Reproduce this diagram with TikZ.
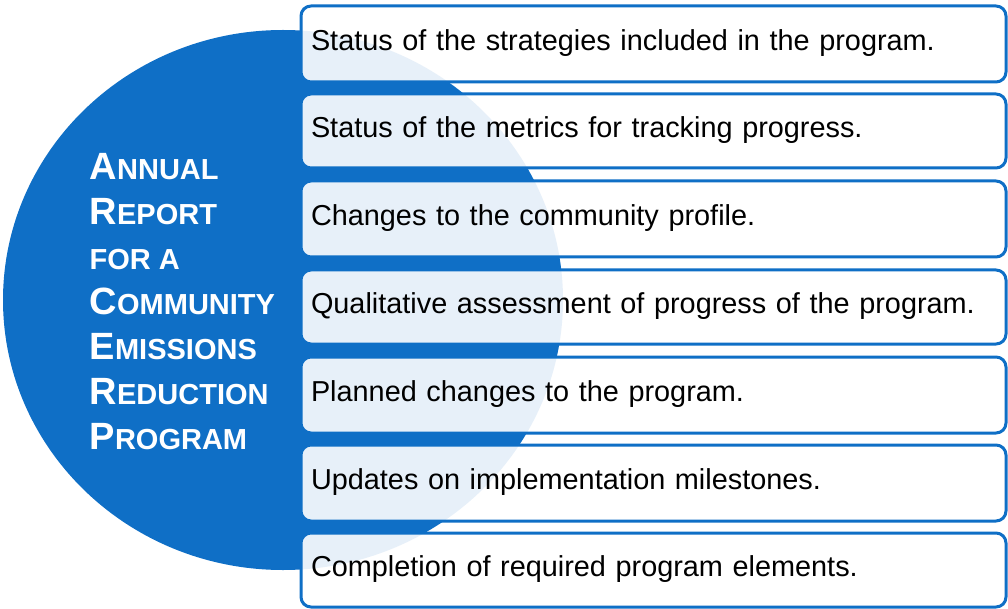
\documentclass[tikz,border=0pt]{standalone}
\usepackage{fontspec}
\setmainfont{Liberation Sans}
\usetikzlibrary{shapes.geometric}
\definecolor{cblue}{HTML}{0F6FC6}
\newcommand\scap[2]{{\fontsize{38}{45}\selectfont #1}{\fontsize{29}{45}\selectfont #2}}
\tikzset{
  itembox/.style={draw=cblue, line width=3pt, rounded corners=10pt,
    fill=white, fill opacity=0.9, text opacity=1, text=black,
    font=\fontsize{28.85}{34}\selectfont, text height=12.5pt, text depth=0pt,
    inner xsep=10pt, inner ysep=0pt, text width=685pt, align=left,
    anchor=north west},
  titletext/.style={text=white, font=\bfseries\fontsize{38}{45}\selectfont,
    inner sep=0pt, align=left, anchor=north west}
}
\begin{document}
\begin{tikzpicture}[x=1pt,y=-1pt]
\useasboundingbox (0,0) rectangle (1008,609);
\node (circ) [ellipse, fill=cblue, draw=none, inner sep=0pt,
  minimum width=560pt, minimum height=540pt] at (283,300) {};
\node (b1) [itembox, minimum height=76pt] at (299.5,4.5) {Status of the strategies included in the program.};
\node (b2) [itembox, minimum height=74pt] at (299.5,92.5) {Status of the metrics for tracking progress.};
\node (b3) [itembox, minimum height=76pt] at (299.5,179.5) {Changes to the community profile.};
\node (b4) [itembox, minimum height=74pt] at (299.5,268.5) {Qualitative assessment of progress of the program.};
\node (b5) [itembox, minimum height=76pt] at (299.5,355.5) {Planned changes to the program.};
\node (b6) [itembox, minimum height=76pt] at (299.5,443.5) {Updates on implementation milestones.};
\node (b7) [itembox, minimum height=74pt] at (299.5,531.5) {Completion of required program elements.};
\node (title) [titletext] at (89.5,153.5) {\scap{A}{NNUAL}\\\scap{R}{EPORT}\\{\fontsize{29}{45}\selectfont FOR A}\\\scap{C}{OMMUNITY}\\\scap{E}{MISSIONS}\\\scap{R}{EDUCTION}\\\scap{P}{ROGRAM}};
\end{tikzpicture}
\end{document}
